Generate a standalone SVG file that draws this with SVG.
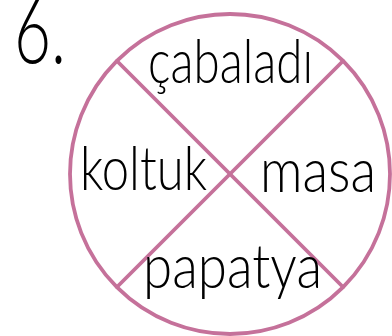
<svg xmlns="http://www.w3.org/2000/svg" width="392" height="336" viewBox="0 0 392 336">
<style>
.ln{fill:none;stroke:#c5719a;stroke-width:3.8;stroke-linecap:round}
.t{font-family:Lato,"Liberation Sans",sans-serif;font-weight:300;fill:#000;font-size:62px}
</style>
<rect width="392" height="336" fill="#fff"/>
<g id="connectors">
<circle class="ln" cx="230" cy="174" r="160"/>
<line class="ln" x1="117" y1="61" x2="343" y2="287"/>
<line class="ln" x1="343" y1="61" x2="117" y2="287"/>
</g>
<g id="number"><text class="t" x="14" y="63" style="font-size:92px" textLength="52" lengthAdjust="spacingAndGlyphs">6.</text></g>
<g id="top"><text class="t" x="148" y="83" textLength="165" lengthAdjust="spacingAndGlyphs">çabaladı</text></g>
<g id="left"><text class="t" x="80" y="190" textLength="127" lengthAdjust="spacingAndGlyphs">koltuk</text></g>
<g id="right"><text class="t" x="260" y="192" textLength="116" lengthAdjust="spacingAndGlyphs">masa</text></g>
<g id="bottom"><text class="t" x="143" y="288" textLength="179" lengthAdjust="spacingAndGlyphs">papatya</text></g>
</svg>
